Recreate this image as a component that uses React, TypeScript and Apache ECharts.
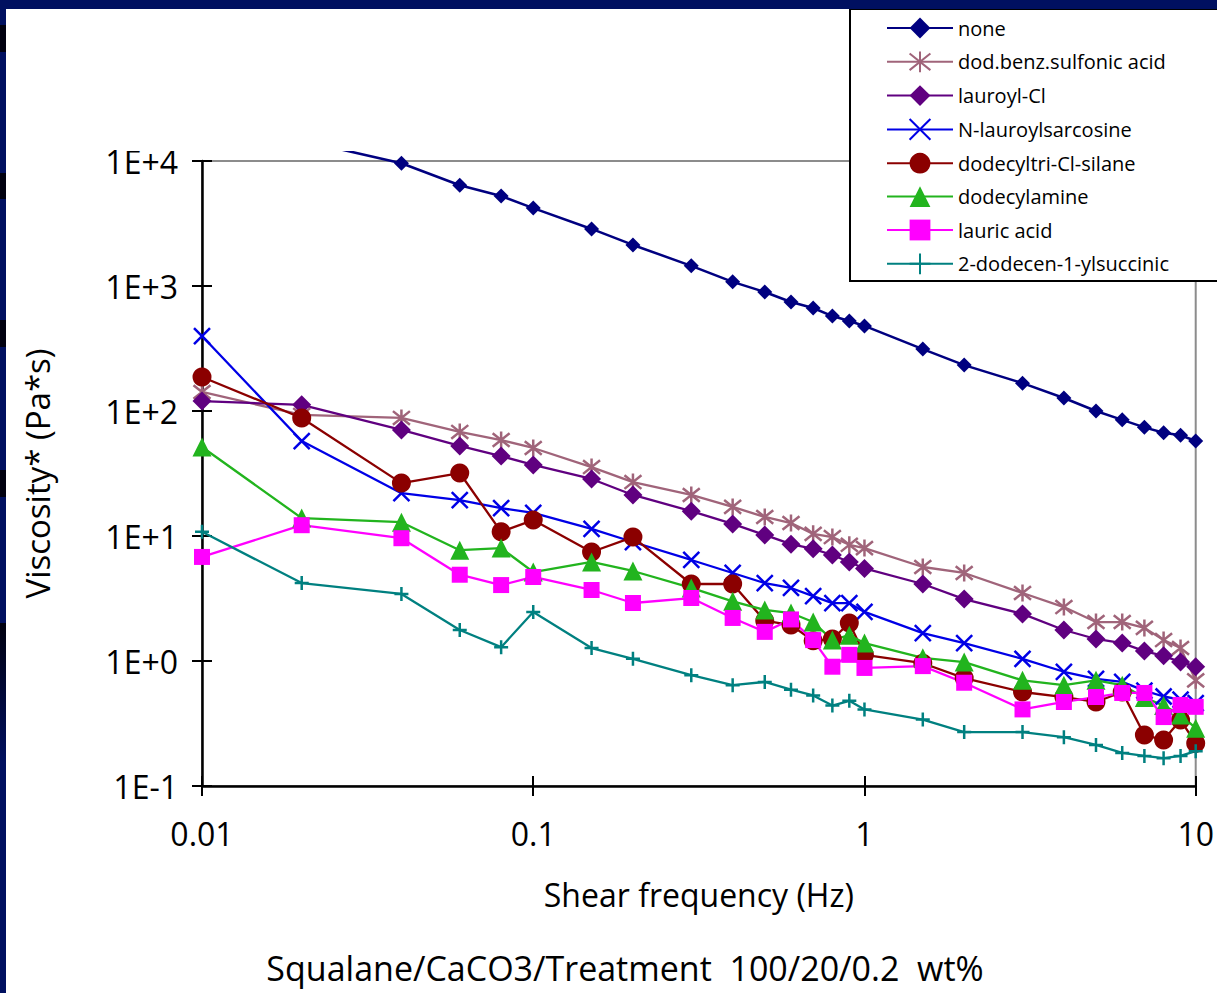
import { useEffect, useRef } from 'react';
import * as echarts from 'echarts';

// Shear frequency sweep (Hz)
const freqHz = [0.01, 0.02, 0.04, 0.06, 0.08, 0.1, 0.15, 0.2, 0.3, 0.4, 0.5, 0.6, 0.7, 0.8, 0.9, 1, 1.5, 2, 3, 4, 5, 6, 7, 8, 9, 10, 15];

// Complex viscosity (Pa*s) per surface treatment
const none = [null, 14600, 9600, 6400, 5250, 4200, 2860, 2130, 1450, 1080, 895, 745, 667, 575, 525, 479, 313, 233, 167, 127, 100, 85, 74, 67, 64, 57.5, 41];
const dodBenzSulfonicAcid = [142, 93, 88, 68, 58.6, 50.6, 35.6, 27, 21.3, 17.1, 14.2, 12.7, 10.4, 9.8, 8.5, 8.0, 5.65, 5.06, 3.5, 2.7, 2.05, 2.05, 1.84, 1.47, 1.27, 0.7, 1.15];
const lauroylCl = [120, 112, 70.5, 52.5, 43.6, 37, 28.6, 21.3, 15.8, 12.5, 10.2, 8.6, 7.9, 7.05, 6.2, 5.5, 4.13, 3.13, 2.38, 1.77, 1.5, 1.39, 1.2, 1.1, 0.98, 0.9, 0.78];
const nLauroylSarcosine = [398, 57.5, 22, 19.4, 16.7, 15.3, 11.4, 8.95, 6.43, 5.06, 4.2, 3.84, 3.3, 2.9, 2.9, 2.47, 1.67, 1.39, 1.04, 0.82, 0.72, 0.68, 0.58, 0.52, 0.49, 0.46, 0.45];
const dodecyltriClSilane = [187, 88, 26.5, 31.9, 10.8, 13.4, 7.45, 9.8, 4.13, 4.13, 2.1, 1.94, 1.45, 1.5, 2.01, 1.12, 0.96, 0.73, 0.565, 0.515, 0.47, 0.565, 0.256, 0.233, 0.337, 0.22, 0.23];
const dodecylamine = [51.5, 13.9, 12.9, 7.7, 8.0, 5.15, 6.2, 5.25, 3.84, 3.0, 2.56, 2.42, 2.05, 1.47, 1.61, 1.39, 1.06, 0.98, 0.7, 0.64, 0.7, 0.64, 0.51, 0.44, 0.37, 0.29, 0.3];
const lauricAcid = [6.8, 12.2, 9.6, 4.9, 4.05, 4.7, 3.7, 2.91, 3.19, 2.21, 1.71, 2.15, 1.47, 0.9, 1.12, 0.88, 0.91, 0.67, 0.41, 0.47, 0.515, 0.555, 0.555, 0.356, 0.445, 0.43, 0.42];
const dodecenylSuccinic = [10.8, 4.2, 3.44, 1.77, 1.29, 2.47, 1.27, 1.04, 0.77, 0.64, 0.68, 0.59, 0.53, 0.44, 0.48, 0.41, 0.34, 0.27, 0.27, 0.246, 0.213, 0.184, 0.174, 0.167, 0.174, 0.19, 0.17];

const seriesNames = [
  'none',
  'dod.benz.sulfonic acid',
  'lauroyl-Cl',
  'N-lauroylsarcosine',
  'dodecyltri-Cl-silane',
  'dodecylamine',
  'lauric acid',
  '2-dodecen-1-ylsuccinic',
];

const xTickLabels = ['0.01', '0.1', '1', '10'];
const yTickLabels = ['1E-1', '1E+0', '1E+1', '1E+2', '1E+3', '1E+4'];

const FONT = '"Open Sans", "Noto Sans", sans-serif';

const X_MARK = 'path://M0,0L10,10M10,0L0,10';
const PLUS_MARK = 'path://M5,0L5,10M0,5L10,5';
const STAR_MARK = 'path://M1,1L9,9M9,1L1,9M5,0L5,10';

function pairs(values: (number | null)[]) {
  const out: [number, number][] = [];
  values.forEach((v, i) => {
    if (v !== null) out.push([freqHz[i], v]);
  });
  return out;
}

function makeSeries(
  name: string,
  values: (number | null)[],
  color: string,
  symbol: string,
  symbolSize: number,
  stroked: boolean,
  lineWidth = 2.3,
) {
  return {
    name,
    type: 'line',
    data: pairs(values),
    symbol,
    symbolSize,
    clip: false,
    lineStyle: { color, width: lineWidth },
    itemStyle: {
      color,
      borderColor: color,
      borderWidth: stroked ? 2.5 : 0,
    },
    emphasis: { disabled: true },
  };
}

export default function App() {
  const ref = useRef<HTMLDivElement>(null);

  useEffect(() => {
    document.body.style.margin = '0';
    if (!ref.current) return;
    const chart = echarts.init(ref.current, undefined, { renderer: 'svg' });

    const logLabel = (labels: string[], minExp: number) => (v: number) => {
      const k = Math.round(Math.log10(v)) - minExp;
      return labels[k] ?? '';
    };

    const baseX = {
      type: 'log',
      logBase: 10,
      min: 0.01,
      max: 10,
      gridIndex: 0,
      splitLine: { show: false },
      minorTick: { show: false },
    };
    const baseY = {
      type: 'log',
      logBase: 10,
      min: 0.1,
      max: 10000,
      gridIndex: 0,
      splitLine: { show: false },
      minorTick: { show: false },
    };

    chart.setOption({
      animation: false,
      backgroundColor: '#ffffff',
      grid: {
        left: 202,
        top: 161,
        right: 16,
        bottom: 207,
        show: true,
        borderColor: '#8c8c8c',
        borderWidth: 2,
        backgroundColor: 'transparent',
      },
      xAxis: [
        {
          ...baseX,
          position: 'bottom',
          axisLine: { lineStyle: { color: '#000', width: 2.5 } },
          axisTick: { length: 10, lineStyle: { color: '#000', width: 2 } },
          axisLabel: {
            formatter: logLabel(xTickLabels, -2),
            fontSize: 32,
            fontFamily: FONT,
            color: '#000',
            margin: 31,
          },
          name: 'Shear frequency (Hz)',
          nameLocation: 'middle',
          nameGap: 92,
          nameTextStyle: { fontSize: 32, fontFamily: FONT, color: '#000' },
        },
        {
          ...baseX,
          position: 'bottom',
          axisLine: { show: false },
          axisTick: { inside: true, length: 10, lineStyle: { color: '#000', width: 2 } },
          axisLabel: { show: false },
        },
      ],
      yAxis: [
        {
          ...baseY,
          position: 'left',
          axisLine: { lineStyle: { color: '#000', width: 2.5 } },
          axisTick: { length: 10, lineStyle: { color: '#000', width: 2 } },
          axisLabel: {
            formatter: logLabel(yTickLabels, -1),
            fontSize: 32,
            fontFamily: FONT,
            color: '#000',
            margin: 24,
          },
          name: 'Viscosity* (Pa*s)',
          nameLocation: 'middle',
          nameRotate: 90,
          nameGap: 148,
          nameTextStyle: { fontSize: 33, fontFamily: FONT, color: '#000' },
        },
        {
          ...baseY,
          position: 'left',
          axisLine: { show: false },
          axisTick: { inside: true, length: 10, lineStyle: { color: '#000', width: 2 } },
          axisLabel: { show: false },
        },
      ],
      legend: {
        data: seriesNames,
        orient: 'vertical',
        left: 886,
        top: 17,
        padding: 0,
        itemWidth: 66,
        itemHeight: 26,
        itemGap: 11.4,
        z: 20,
        textStyle: { fontSize: 20, fontFamily: FONT, color: '#000', lineHeight: 22 },
      },
      graphic: [
        // blank band above the plot where the first curve runs off the scale
        {
          type: 'rect',
          z: 10,
          shape: { x: 120, y: 9, width: 725, height: 142 },
          style: { fill: '#ffffff' },
        },
        // legend frame
        {
          type: 'rect',
          z: 15,
          shape: { x: 850, y: 9, width: 420, height: 272 },
          style: { fill: '#ffffff', stroke: '#000000', lineWidth: 2 },
        },
        // slide border
        { type: 'rect', z: 100, shape: { x: 0, y: 0, width: 1217, height: 9 }, style: { fill: '#001060' } },
        { type: 'rect', z: 100, shape: { x: 0, y: 0, width: 6, height: 993 }, style: { fill: '#001060' } },
        { type: 'rect', z: 101, shape: { x: 0, y: 25, width: 6, height: 27 }, style: { fill: '#00000f' } },
        { type: 'rect', z: 101, shape: { x: 0, y: 173, width: 6, height: 26 }, style: { fill: '#00000f' } },
        { type: 'rect', z: 101, shape: { x: 0, y: 320, width: 6, height: 27 }, style: { fill: '#00000f' } },
        { type: 'rect', z: 101, shape: { x: 0, y: 470, width: 6, height: 27 }, style: { fill: '#00000f' } },
        {
          type: 'rect',
          z: 101,
          shape: { x: 0, y: 623, width: 6, height: 140 },
          style: {
            fill: new echarts.graphic.LinearGradient(0, 0, 0, 1, [
              { offset: 0, color: '#00000f' },
              { offset: 1, color: '#001060' },
            ]),
          },
        },
        {
          type: 'text',
          z: 30,
          x: 625,
          y: 968,
          style: {
            text: 'Squalane/CaCO3/Treatment  100/20/0.2  wt%',
            fontSize: 34,
            fontFamily: FONT,
            fill: '#000',
            align: 'center',
            verticalAlign: 'middle',
          },
        },
      ],
      series: [
        makeSeries(seriesNames[0], none, '#000080', 'diamond', 15, false, 2.5),
        makeSeries(seriesNames[1], dodBenzSulfonicAcid, '#a0647a', STAR_MARK, 17, true),
        makeSeries(seriesNames[2], lauroylCl, '#600080', 'diamond', 19, false),
        makeSeries(seriesNames[3], nLauroylSarcosine, '#0000e6', X_MARK, 16, true),
        makeSeries(seriesNames[4], dodecyltriClSilane, '#8b0000', 'circle', 19, false),
        makeSeries(seriesNames[5], dodecylamine, '#22b41e', 'triangle', 19, false),
        makeSeries(seriesNames[6], lauricAcid, '#ff00ff', 'rect', 16, false),
        makeSeries(seriesNames[7], dodecenylSuccinic, '#008080', PLUS_MARK, 14, true),
      ],
    });

    return () => chart.dispose();
  }, []);

  return (
    <div
      ref={ref}
      style={{ position: 'absolute', left: 0, top: 0, width: 1217, height: 993 }}
    />
  );
}
